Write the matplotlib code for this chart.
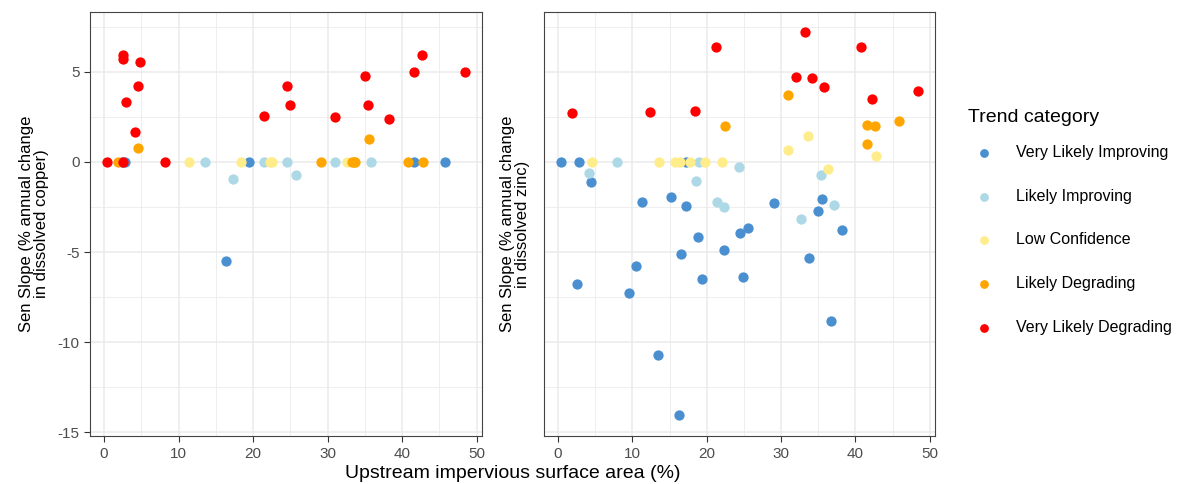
import numpy as np
import matplotlib.pyplot as plt
from matplotlib.ticker import MultipleLocator

plt.rcParams['font.family'] = ['Liberation Sans', 'DejaVu Sans']
plt.rcParams['axes.unicode_minus'] = False

categorii = ["Very Likely Improving", "Likely Improving", "Low Confidence",
             "Likely Degrading", "Very Likely Degrading"]
culori = ["#4A90D0", "#ADD8E6", "#FFEC8B", "#FFA500", "#FF0000"]

# cupru (copper) - x = impervious %, y = sen slope
cu_x = {
    "Very Likely Improving": [2.4, 2.8, 19.4, 41.6, 45.7, 16.3],
    "Likely Improving": [13.6, 17.25, 21.4, 24.5, 25.7, 31.0, 35.8],
    "Low Confidence": [11.4, 18.4, 22.3, 22.5, 32.6],
    "Likely Degrading": [1.9, 4.5, 35.5, 29.1, 33.3, 33.5, 33.7, 40.8, 42.8],
    "Very Likely Degrading": [0.45, 2.5, 2.5, 4.8, 4.5, 2.9, 4.2, 8.2, 21.4, 24.6, 24.9,
                              31.0, 35.0, 35.35, 38.2, 41.6, 42.6, 48.4, 2.6],
}
cu_y = {
    "Very Likely Improving": [0, 0, 0, 0, 0, -5.49],
    "Likely Improving": [0, -0.96, 0, 0, -0.74, 0, 0],
    "Low Confidence": [0, 0, 0, 0, 0],
    "Likely Degrading": [0, 0.77, 1.25, 0, 0, 0, 0, 0, 0],
    "Very Likely Degrading": [0, 5.92, 5.7, 5.51, 4.23, 3.33, 1.65, 0, 2.52, 4.21, 3.14,
                              2.5, 4.74, 3.13, 2.37, 4.96, 5.9, 5.0, 0],
}

# zinc
zn_x = {
    "Very Likely Improving": [0.36, 2.8, 17.2, 4.4, 11.3, 15.2, 17.2, 29.0, 35.5, 35.0,
                              25.6, 24.5, 18.8, 38.2, 22.3, 16.5, 10.5, 33.8, 2.6, 9.5,
                              19.3, 24.9, 36.7, 13.5, 16.3],
    "Likely Improving": [7.9, 4.2, 18.6, 18.9, 24.4, 21.4, 22.3, 35.4, 37.1, 32.7],
    "Low Confidence": [4.6, 13.6, 15.7, 16.4, 17.75, 19.7, 22.0, 30.9, 33.6, 36.3, 42.8],
    "Likely Degrading": [30.9, 22.5, 41.55, 42.7, 45.8, 41.55],
    "Very Likely Degrading": [1.9, 12.4, 18.4, 21.3, 33.2, 32.0, 34.2, 35.8, 40.8, 42.2, 48.4],
}
zn_y = {
    "Very Likely Improving": [0, 0, 0, -1.14, -2.22, -1.93, -2.44, -2.30, -2.04, -2.70,
                              -3.64, -3.95, -4.15, -3.80, -4.9, -5.11, -5.8, -5.35, -6.78, -7.26,
                              -6.52, -6.41, -8.82, -10.7, -14.04],
    "Likely Improving": [0, -0.6, -1.07, 0, -0.26, -2.22, -2.52, -0.74, -2.37, -3.16],
    "Low Confidence": [0, 0, 0, 0, 0, 0, 0, 0.64, 1.45, -0.42, 0.35],
    "Likely Degrading": [3.68, 2.0, 2.04, 1.99, 2.28, 1.01],
    "Very Likely Degrading": [2.68, 2.76, 2.81, 6.38, 7.22, 4.72, 4.63, 4.17, 6.38, 3.47, 3.90],
}

fig = plt.figure(figsize=(11.79, 4.84), dpi=100)
ax1 = fig.add_axes([0.0763, 0.099, 0.3325, 0.876])
ax2 = fig.add_axes([0.4614, 0.099, 0.3316, 0.876])


def panou(ax, xs, ys, eticheta, cu_etichete_y):
    for cat, c in zip(categorii, culori):
        ax.scatter(xs[cat], ys[cat], s=55, color=c, linewidths=0, zorder=3, label=cat)
    ax.set_xlim(-1.9, 50.7)
    ax.set_ylim(-15.2, 8.3)
    ax.xaxis.set_major_locator(MultipleLocator(10))
    ax.xaxis.set_minor_locator(MultipleLocator(5))
    ax.yaxis.set_major_locator(MultipleLocator(5))
    ax.yaxis.set_minor_locator(MultipleLocator(2.5))
    ax.grid(which='major', color='#EBEBEB', linewidth=1.1, zorder=0)
    ax.grid(which='minor', color='#EBEBEB', linewidth=0.6, zorder=0)
    ax.set_axisbelow(True)
    for s in ax.spines.values():
        s.set_color('#444444')
        s.set_linewidth(0.8)
    ax.tick_params(which='major', length=4, width=0.8, color='#333333',
                   labelsize=11, labelcolor='#4D4D4D')
    ax.tick_params(which='minor', length=0)
    if not cu_etichete_y:
        ax.tick_params(axis='y', which='major', length=0, labelleft=False)
    ax.set_ylabel(eticheta, fontsize=12, linespacing=1.0, labelpad=6)


panou(ax1, cu_x, cu_y, "Sen Slope (% annual change\nin dissolved copper)", True)
panou(ax2, zn_x, zn_y, "Sen Slope (% annual change\nin dissolved zinc)", False)
ax2.yaxis.set_label_coords(-0.035, 0.5)

fig.text(0.435, 0.004, "Upstream impervious surface area (%)", ha='center',
         va='bottom', fontsize=14)

h, l = ax2.get_legend_handles_labels()
leg = fig.legend(h, l, title="Trend category", loc='upper left',
                 bbox_to_anchor=(0.816, 0.789), frameon=False, fontsize=11.5,
                 title_fontsize=14, labelspacing=1.8, handletextpad=1.0,
                 markerscale=0.85, borderaxespad=0)
leg._legend_box.align = "left"
leg._legend_box.sep = 14

fig.savefig("out.png", dpi=100)
